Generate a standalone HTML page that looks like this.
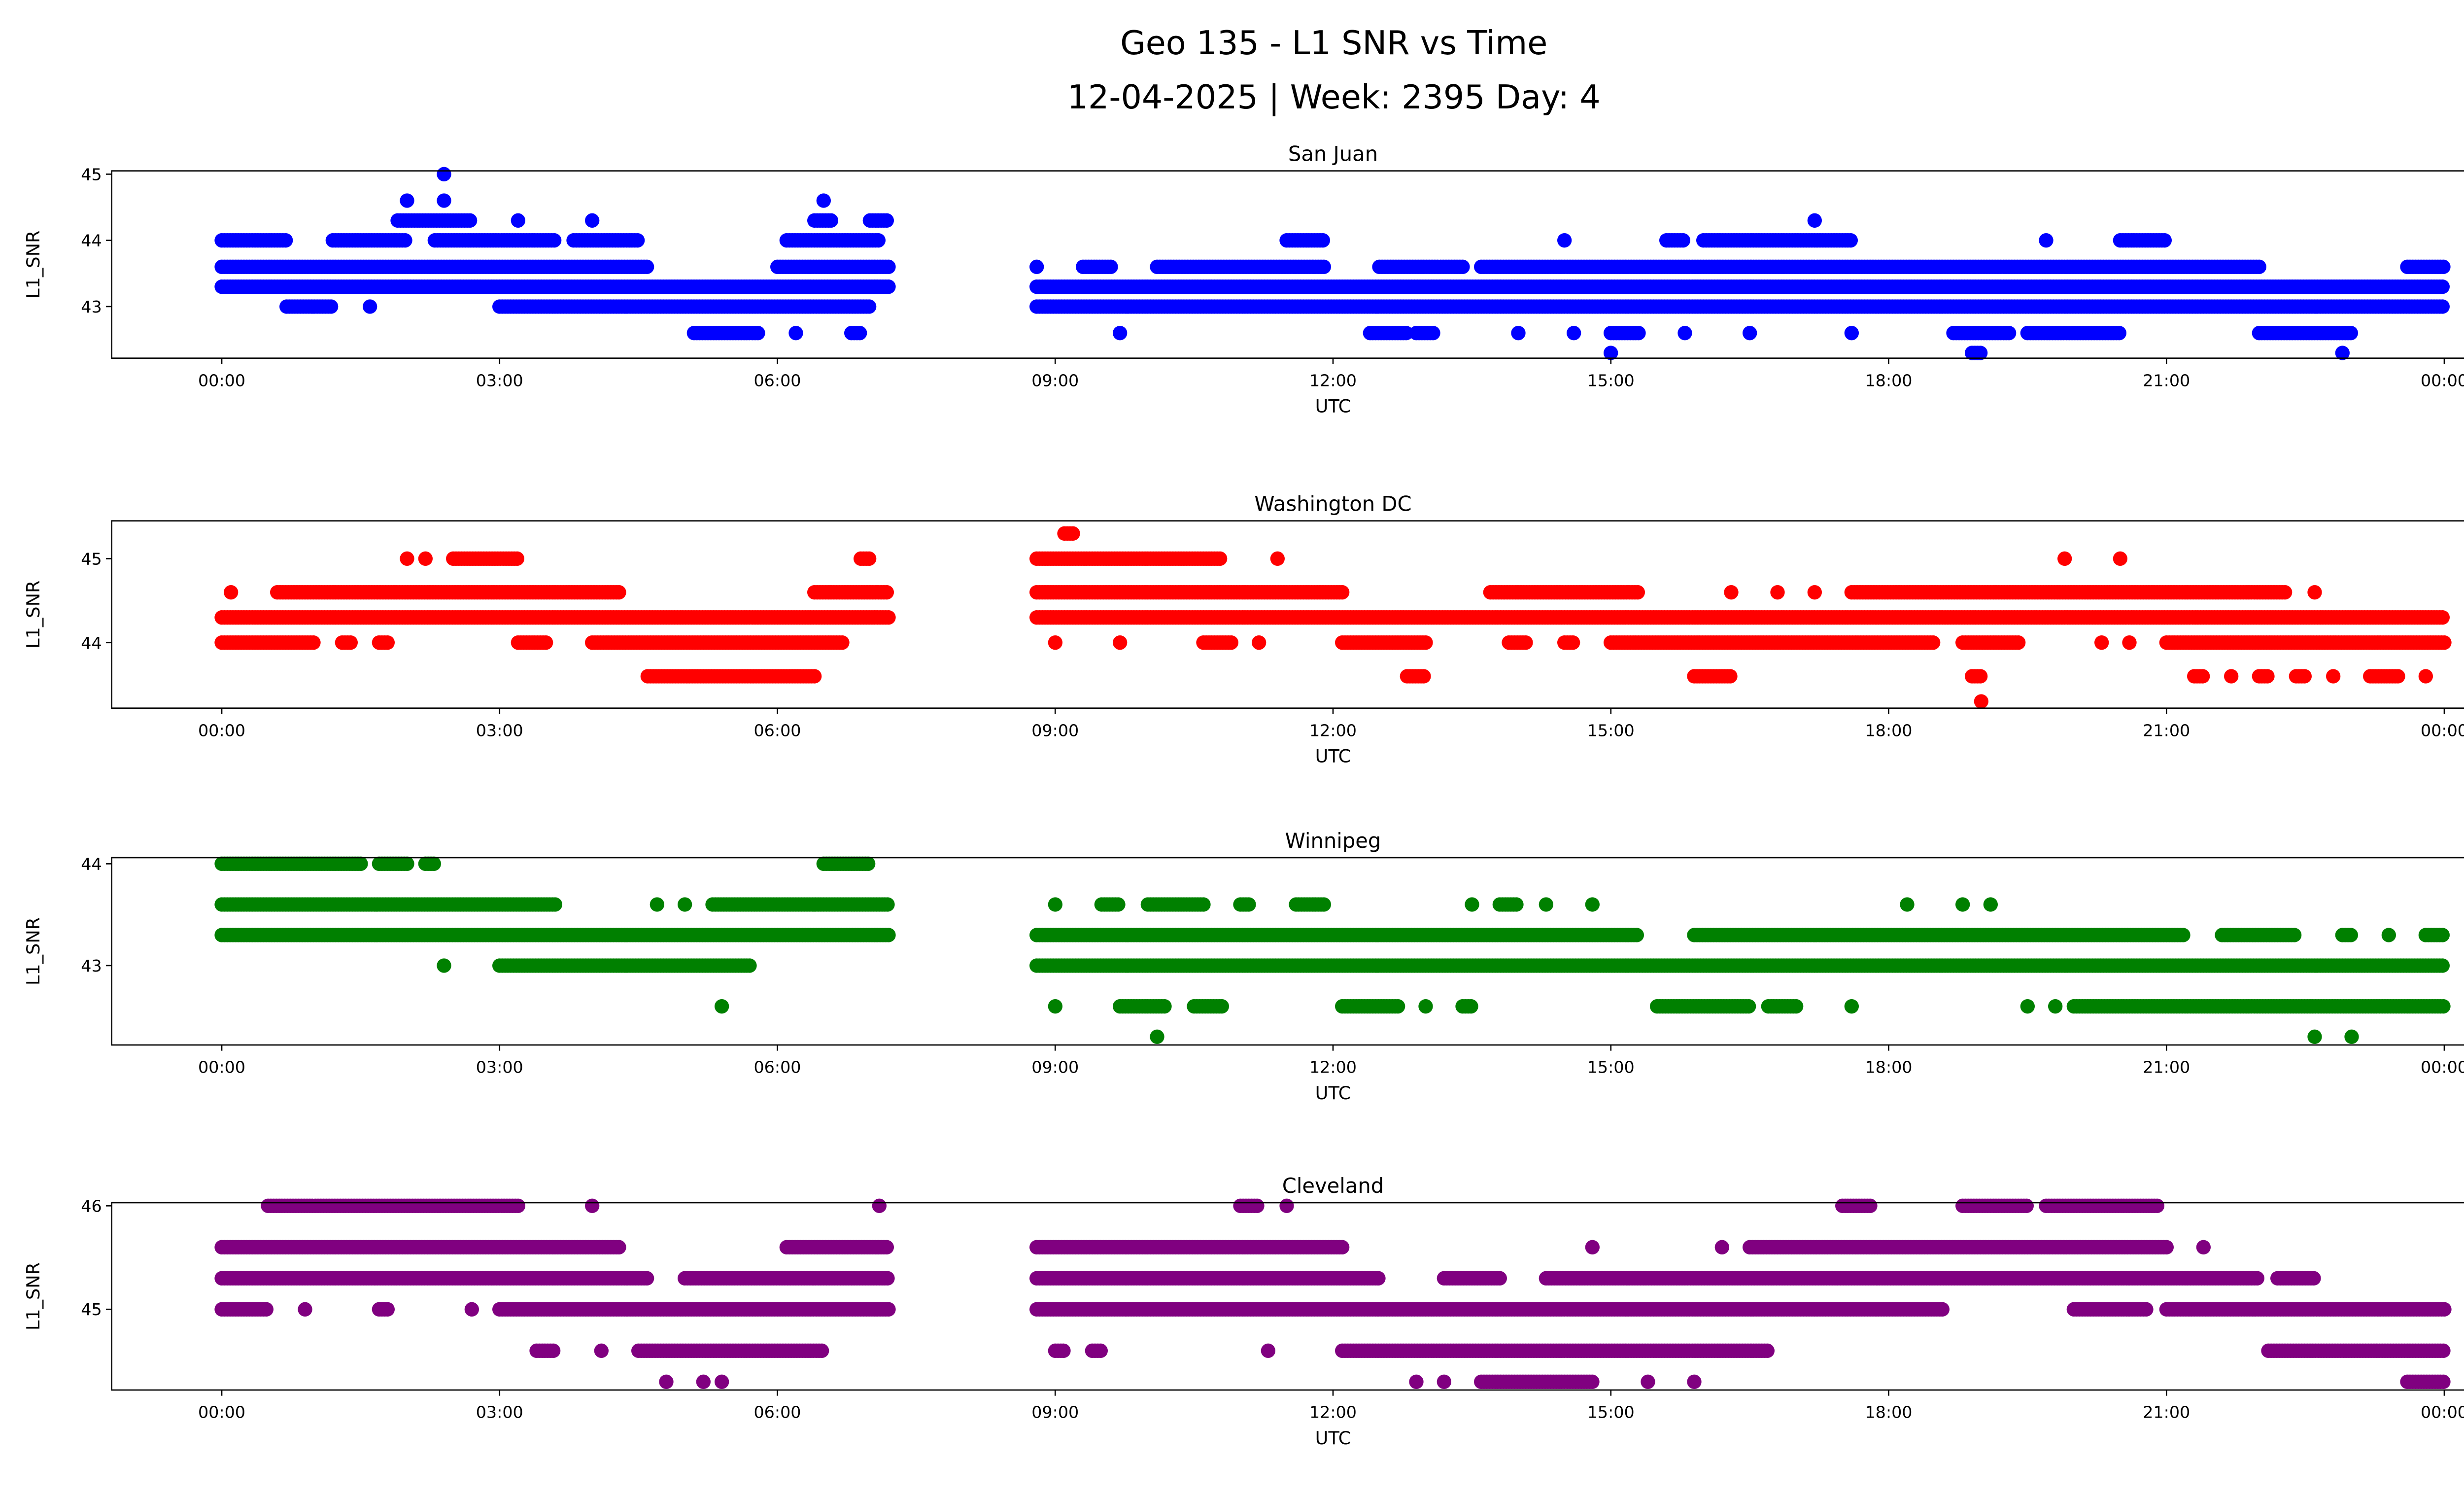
<!DOCTYPE html>
<html><head><meta charset="utf-8"><style>
html,body{margin:0;padding:0;background:#fff;width:5225px;height:3033px;overflow:hidden}
svg{display:block;font-family:"DejaVu Sans","Liberation Sans",sans-serif}
</style></head><body>
<svg id="fig" width="5225" height="3033" viewBox="0 0 1567.5 909.9" preserveAspectRatio="none" xmlns="http://www.w3.org/2000/svg">
<text x="812" y="33" font-size="20" text-anchor="middle">Geo 135 - L1 SNR vs Time</text>
<text x="812" y="66" font-size="20" text-anchor="middle">12-04-2025 | Week: 2395 Day: 4</text>
</svg>
<script>
// Tick labels
const xTickHours = [0,3,6,9,12,15,18,21,24];
const xTickLabels = ["00:00","03:00","06:00","09:00","12:00","15:00","18:00","21:00","00:00"];
// Station names and colours
const stations = ["San Juan","Washington DC","Winnipeg","Cleveland"];
const colors = ["#0000ff","#ff0000","#008000","#800080"];
const yTicks = [[43,44,45],[44,45],[43,44],[45,46]];
// Observation runs: [startHour, endHour, L1_SNR]
const runsSanJuan = [
 [0,7.2,43.3],[8.8,24,43.3],
 [0,4.6,43.6],[6.0,7.2,43.6],[8.8,8.8,43.6],[9.3,9.6,43.6],[10.1,11.9,43.6],[12.5,13.4,43.6],[13.6,22.0,43.6],[23.6,24,43.6],
 [0,0.7,44.0],[1.2,2.0,44.0],[2.3,3.6,44.0],[3.8,4.5,44.0],[6.1,7.1,44.0],[11.5,11.9,44.0],[14.5,14.5,44.0],[15.6,15.8,44.0],[16.0,17.6,44.0],[19.7,19.7,44.0],[20.5,21.0,44.0],
 [0.7,1.2,43.0],[1.6,1.6,43.0],[3.0,7.0,43.0],[8.8,24,43.0],
 [5.1,5.8,42.6],[6.2,6.2,42.6],[6.8,6.9,42.6],[9.7,9.7,42.6],[12.4,12.8,42.6],[12.9,13.1,42.6],[14.0,14.0,42.6],[14.6,14.6,42.6],[15.0,15.3,42.6],[15.8,15.8,42.6],[16.5,16.5,42.6],[17.6,17.6,42.6],[18.7,19.3,42.6],[19.5,20.5,42.6],[22.0,23.0,42.6],
 [1.9,2.7,44.3],[3.2,3.2,44.3],[4.0,4.0,44.3],[6.4,6.6,44.3],[7.0,7.2,44.3],[17.2,17.2,44.3],
 [2.0,2.0,44.6],[2.4,2.4,44.6],[6.5,6.5,44.6],[2.4,2.4,45.0],
 [15.0,15.0,42.3],[18.9,19.0,42.3],[22.9,22.9,42.3]
];
const runsWashington = [
 [0,7.2,44.3],[8.8,24,44.3],
 [0,1.0,44.0],[1.3,1.4,44.0],[1.7,1.8,44.0],[3.2,3.5,44.0],[4.0,6.7,44.0],[9.0,9.0,44.0],[9.7,9.7,44.0],[10.6,10.9,44.0],[11.2,11.2,44.0],[12.1,13.0,44.0],[13.9,14.1,44.0],[14.5,14.6,44.0],[15.0,18.5,44.0],[18.8,19.4,44.0],[20.3,20.3,44.0],[20.6,20.6,44.0],[21.0,24,44.0],
 [0.1,0.1,44.6],[0.6,4.3,44.6],[6.4,7.2,44.6],[8.8,12.1,44.6],[13.7,15.3,44.6],[16.3,16.3,44.6],[16.8,16.8,44.6],[17.2,17.2,44.6],[17.6,22.3,44.6],[22.6,22.6,44.6],
 [2.0,2.0,45.0],[2.2,2.2,45.0],[2.5,3.2,45.0],[6.9,7.0,45.0],[8.8,10.8,45.0],[11.4,11.4,45.0],[19.9,19.9,45.0],[20.5,20.5,45.0],
 [4.6,6.4,43.6],[12.8,13.0,43.6],[15.9,16.3,43.6],[18.9,19.0,43.6],[21.3,21.4,43.6],[21.7,21.7,43.6],[22.0,22.1,43.6],[22.4,22.5,43.6],[22.8,22.8,43.6],[23.2,23.5,43.6],[23.8,23.8,43.6],
 [9.1,9.2,45.3],[19.0,19.0,43.3]
];
const runsWinnipeg = [
 [0,1.5,44.0],[1.7,2.0,44.0],[2.2,2.3,44.0],[6.5,7.0,44.0],
 [0,3.6,43.6],[4.7,4.7,43.6],[5.0,5.0,43.6],[5.3,7.2,43.6],[9.0,9.0,43.6],[9.5,9.7,43.6],[10.0,10.6,43.6],[11.0,11.1,43.6],[11.6,11.9,43.6],[13.5,13.5,43.6],[13.8,14.0,43.6],[14.3,14.3,43.6],[14.8,14.8,43.6],[18.2,18.2,43.6],[18.8,18.8,43.6],[19.1,19.1,43.6],
 [0,7.2,43.3],[8.8,15.3,43.3],[15.9,21.2,43.3],[21.6,22.4,43.3],[22.9,23.0,43.3],[23.4,23.4,43.3],[23.8,24,43.3],
 [2.4,2.4,43.0],[3.0,5.7,43.0],[8.8,24,43.0],
 [5.4,5.4,42.6],[9.0,9.0,42.6],[9.7,10.2,42.6],[10.5,10.8,42.6],[12.1,12.7,42.6],[13.0,13.0,42.6],[13.4,13.5,42.6],[15.5,16.5,42.6],[16.7,17.0,42.6],[17.6,17.6,42.6],[19.5,19.5,42.6],[19.8,19.8,42.6],[20.0,24,42.6],
 [10.1,10.1,42.3],[22.6,22.6,42.3],[23.0,23.0,42.3]
];
const runsCleveland = [
 [0.5,3.2,46.0],[4.0,4.0,46.0],[7.1,7.1,46.0],[11.0,11.2,46.0],[11.5,11.5,46.0],[17.5,17.8,46.0],[18.8,19.5,46.0],[19.7,20.9,46.0],
 [0,4.3,45.6],[6.1,7.2,45.6],[8.8,12.1,45.6],[14.8,14.8,45.6],[16.2,16.2,45.6],[16.5,21.0,45.6],[21.4,21.4,45.6],
 [0,4.6,45.3],[5.0,7.2,45.3],[8.8,12.5,45.3],[13.2,13.8,45.3],[14.3,22.0,45.3],[22.2,22.6,45.3],
 [0,0.5,45.0],[0.9,0.9,45.0],[1.7,1.8,45.0],[2.7,2.7,45.0],[3.0,7.2,45.0],[8.8,18.6,45.0],[20.0,20.8,45.0],[21.0,24,45.0],
 [3.4,3.6,44.6],[4.1,4.1,44.6],[4.5,6.5,44.6],[9.0,9.1,44.6],[9.4,9.5,44.6],[11.3,11.3,44.6],[12.1,16.7,44.6],[22.1,24,44.6],
 [4.8,4.8,44.3],[5.2,5.2,44.3],[5.4,5.4,44.3],[12.9,12.9,44.3],[13.2,13.2,44.3],[13.6,14.8,44.3],[15.4,15.4,44.3],[15.9,15.9,44.3],[23.6,24,44.3]
];
const allRuns = [runsSanJuan, runsWashington, runsWinnipeg, runsCleveland];
// Y domains per panel
const yDomains = [[42.22,45.05],[43.22,45.45],[42.22,44.06],[44.22,46.03]];

const NS = "http://www.w3.org/2000/svg";
const svg = document.getElementById('fig');
const axL = 68, axR = 1555;
const panelTops = [104, 317, 522, 732];
const panelH = 114;
function xScale(h){ return 135 + (h/24)*(1488-135); }
function mk(tag, attrs){ const e = document.createElementNS(NS, tag); for (const k in attrs) e.setAttribute(k, attrs[k]); return e; }

stations.forEach((name, i) => {
  const top = panelTops[i], bot = top + panelH;
  const [d0, d1] = yDomains[i];
  const yScale = v => bot - (v - d0)/(d1 - d0)*panelH;
  const g = mk('g', {});
  
  
  svg.appendChild(g);
  const title = mk('text', {x: (axL+axR)/2, y: top-6, 'font-size': 12.5, 'text-anchor': 'middle'});
  
  
  title.textContent = name; g.appendChild(title);
  const pts = mk('g', {fill: colors[i]});
  
  
  g.appendChild(pts);
  allRuns[i].forEach(r => {
    const [s, e, v] = r;
    for (let h = s; h <= e + 1e-9; h += 0.03) {
      const c = mk('circle', {cx: xScale(h).toFixed(1), cy: yScale(v).toFixed(1), r: 4.4});
      
      
      pts.appendChild(c);
      if (e === s) break;
    }
  });
  const frame = mk('rect', {x: axL, y: top, width: axR-axL, height: panelH, fill: 'none', stroke: '#000', 'stroke-width': 0.8});
  
  
  g.appendChild(frame);
  xTickHours.forEach((h, k) => {
    const x = xScale(h);
    const t = mk('line', {x1: x, x2: x, y1: bot, y2: bot+3.5, stroke: '#000', 'stroke-width': 0.8});
    
    
    g.appendChild(t);
    const l = mk('text', {x: x, y: bot+17, 'font-size': 10, 'text-anchor': 'middle'});
    
    
    l.textContent = xTickLabels[k]; g.appendChild(l);
  });
  yTicks[i].forEach(v => {
    const y = yScale(v);
    const t = mk('line', {x1: axL-3.5, x2: axL, y1: y, y2: y, stroke: '#000', 'stroke-width': 0.8});
    
    
    g.appendChild(t);
    const l = mk('text', {x: axL-6, y: y+3.6, 'font-size': 10, 'text-anchor': 'end'});
    
    
    l.textContent = v; g.appendChild(l);
  });
  const xl = mk('text', {x: (axL+axR)/2, y: bot+33, 'font-size': 11, 'text-anchor': 'middle'});
  
  
  xl.textContent = 'UTC'; g.appendChild(xl);
  const yl = mk('text', {x: 0, y: 0, 'font-size': 11, 'text-anchor': 'middle', transform: `translate(24 ${top+panelH/2}) rotate(-90)`});
  
  
  yl.textContent = 'L1_SNR'; g.appendChild(yl);
});
</script>
</body></html>
